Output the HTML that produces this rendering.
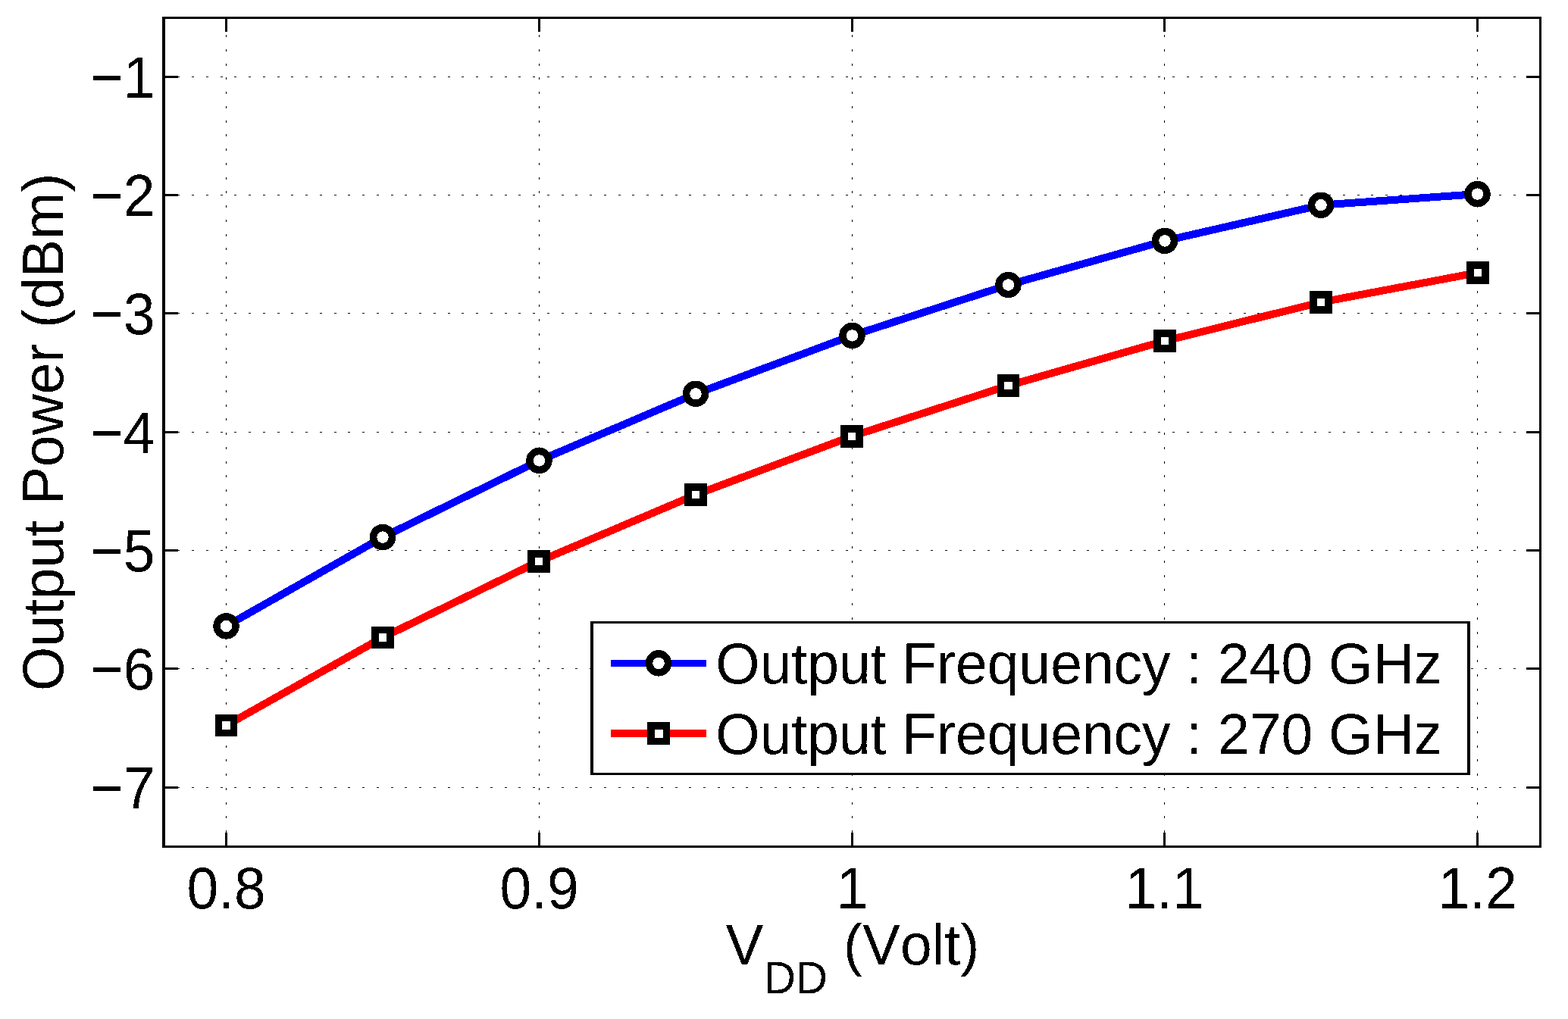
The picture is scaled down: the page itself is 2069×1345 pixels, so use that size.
<!DOCTYPE html><html><head><meta charset="utf-8"><title>Output Power vs VDD</title><style>html,body{margin:0;padding:0;background:#fff;overflow:hidden;}svg{display:block;}text{font-family:"Liberation Sans",Arial,Helvetica,sans-serif;fill:#000;font-kerning:none;font-feature-settings:"kern" 0;}</style></head><body>
<svg width="2069" height="1345" viewBox="0 0 2069 1345">
<defs><filter id="bin" x="-5%" y="-20%" width="110%" height="140%" color-interpolation-filters="sRGB"><feComponentTransfer><feFuncA type="discrete" tableValues="0 1"/></feComponentTransfer></filter></defs>
<rect x="0" y="0" width="2069" height="1345" fill="#fff"/>
<g stroke="#000" stroke-width="1" stroke-dasharray="3 15.75" fill="none" shape-rendering="crispEdges"><line x1="215.6" y1="101.5" x2="2032.5" y2="101.5"/><line x1="215.6" y1="257.5" x2="2032.5" y2="257.5"/><line x1="215.6" y1="413.5" x2="2032.5" y2="413.5"/><line x1="215.6" y1="570.5" x2="2032.5" y2="570.5"/><line x1="215.6" y1="726.5" x2="2032.5" y2="726.5"/><line x1="215.6" y1="882.5" x2="2032.5" y2="882.5"/><line x1="215.6" y1="1039.5" x2="2032.5" y2="1039.5"/><line x1="298.5" y1="1117.8" x2="298.5" y2="23.5"/><line x1="711.5" y1="1117.8" x2="711.5" y2="23.5"/><line x1="1124.5" y1="1117.8" x2="1124.5" y2="23.5"/><line x1="1536.5" y1="1117.8" x2="1536.5" y2="23.5"/><line x1="1949.5" y1="1117.8" x2="1949.5" y2="23.5"/></g>
<polyline points="298.5,826.4 505,709.1 711.5,607.9 918,519.8 1124.5,442.9 1330.5,376 1537,317.9 1743,270.7 1949.5,256.1" fill="none" stroke="#00f" stroke-width="10" stroke-linejoin="round" shape-rendering="crispEdges"/>
<g fill="#fff" stroke="#000" stroke-width="9.5" shape-rendering="crispEdges"><circle cx="298.5" cy="826.4" r="12.5"/><circle cx="505" cy="709.1" r="12.5"/><circle cx="711.5" cy="607.9" r="12.5"/><circle cx="918" cy="519.8" r="12.5"/><circle cx="1124.5" cy="442.9" r="12.5"/><circle cx="1330.5" cy="376" r="12.5"/><circle cx="1537" cy="317.9" r="12.5"/><circle cx="1743" cy="270.7" r="12.5"/><circle cx="1949.5" cy="256.1" r="12.5"/></g>
<polyline points="298.5,957.5 505,841.4 711,741 918,653 1124,575.9 1330.5,508.9 1537,450 1743,398.9 1950,359.9" fill="none" stroke="#f00" stroke-width="10" stroke-linejoin="round" shape-rendering="crispEdges"/>
<g shape-rendering="crispEdges"><rect x="283.75" y="942.75" width="29.5" height="29.5" fill="#000"/><rect x="293.25" y="952.25" width="10.5" height="10.5" fill="#fff"/><rect x="490.25" y="826.65" width="29.5" height="29.5" fill="#000"/><rect x="499.75" y="836.15" width="10.5" height="10.5" fill="#fff"/><rect x="696.25" y="726.25" width="29.5" height="29.5" fill="#000"/><rect x="705.75" y="735.75" width="10.5" height="10.5" fill="#fff"/><rect x="903.25" y="638.25" width="29.5" height="29.5" fill="#000"/><rect x="912.75" y="647.75" width="10.5" height="10.5" fill="#fff"/><rect x="1109.25" y="561.15" width="29.5" height="29.5" fill="#000"/><rect x="1118.75" y="570.65" width="10.5" height="10.5" fill="#fff"/><rect x="1315.75" y="494.15" width="29.5" height="29.5" fill="#000"/><rect x="1325.25" y="503.65" width="10.5" height="10.5" fill="#fff"/><rect x="1522.25" y="435.25" width="29.5" height="29.5" fill="#000"/><rect x="1531.75" y="444.75" width="10.5" height="10.5" fill="#fff"/><rect x="1728.25" y="384.15" width="29.5" height="29.5" fill="#000"/><rect x="1737.75" y="393.65" width="10.5" height="10.5" fill="#fff"/><rect x="1935.25" y="345.15" width="29.5" height="29.5" fill="#000"/><rect x="1944.75" y="354.65" width="10.5" height="10.5" fill="#fff"/></g>
<g fill="#000" shape-rendering="crispEdges"><rect x="214" y="22" width="4" height="1097"/><rect x="2031" y="22" width="3" height="1097"/><rect x="214" y="22" width="1820" height="3"/><rect x="214" y="1116" width="1820" height="3"/><rect x="218" y="100" width="17" height="3"/><rect x="2014" y="100" width="17" height="3"/><rect x="218" y="256" width="17" height="3"/><rect x="2014" y="256" width="17" height="3"/><rect x="218" y="412" width="17" height="3"/><rect x="2014" y="412" width="17" height="3"/><rect x="218" y="569" width="17" height="3"/><rect x="2014" y="569" width="17" height="3"/><rect x="218" y="725" width="17" height="3"/><rect x="2014" y="725" width="17" height="3"/><rect x="218" y="881" width="17" height="3"/><rect x="2014" y="881" width="17" height="3"/><rect x="218" y="1038" width="17" height="3"/><rect x="2014" y="1038" width="17" height="3"/><rect x="297" y="25" width="3" height="17"/><rect x="297" y="1099" width="3" height="17"/><rect x="710" y="25" width="3" height="17"/><rect x="710" y="1099" width="3" height="17"/><rect x="1123" y="25" width="3" height="17"/><rect x="1123" y="1099" width="3" height="17"/><rect x="1535" y="25" width="3" height="17"/><rect x="1535" y="1099" width="3" height="17"/><rect x="1948" y="25" width="3" height="17"/><rect x="1948" y="1099" width="3" height="17"/></g>
<g shape-rendering="crispEdges"><rect x="779" y="820" width="1161" height="203" fill="#000"/><rect x="783" y="823" width="1153" height="197" fill="#fff"/><rect x="806" y="871" width="126" height="9" fill="#00f"/><rect x="806" y="963" width="126" height="10" fill="#f00"/><rect x="854" y="953" width="30" height="30" fill="#000"/><rect x="864" y="963" width="11" height="11" fill="#fff"/></g>
<circle cx="869" cy="875.4" r="12.5" fill="#fff" stroke="#000" stroke-width="9.5" shape-rendering="crispEdges"/>
<g filter="url(#bin)"><g font-size="75"><text transform="translate(204.5 128.90) scale(1 1.044)" text-anchor="end">−1</text><text transform="translate(204.5 284.90) scale(1 1.044)" text-anchor="end">−2</text><text transform="translate(204.5 440.90) scale(1 1.044)" text-anchor="end">−3</text><text transform="translate(204.5 597.90) scale(1 1.044)" text-anchor="end">−4</text><text transform="translate(204.5 753.90) scale(1 1.044)" text-anchor="end">−5</text><text transform="translate(204.5 909.90) scale(1 1.044)" text-anchor="end">−6</text><text transform="translate(204.5 1066.90) scale(1 1.044)" text-anchor="end">−7</text><text transform="translate(298.5 1199) scale(1 1.044)" text-anchor="middle">0.8</text><text transform="translate(711.5 1199) scale(1 1.044)" text-anchor="middle">0.9</text><text transform="translate(1124.5 1199) scale(1 1.044)" text-anchor="middle">1</text><text transform="translate(1536.5 1199) scale(1 1.044)" text-anchor="middle">1.1</text><text transform="translate(1949.5 1199) scale(1 1.044)" text-anchor="middle">1.2</text></g><text font-size="75" transform="translate(83.4 570.4) rotate(-90) scale(1 1.02)" text-anchor="middle">Output Power (dBm)</text><text font-size="75" transform="translate(957.6 1273) scale(1 1.02)">V<tspan font-size="58.5" dy="36.8">DD</tspan><tspan dy="-36.8"> (Volt)</tspan></text><text font-size="75" transform="translate(944.3 902) scale(1 1.02)">Output Frequency : 240 GHz</text><text font-size="75" transform="translate(944.3 995) scale(1 1.02)">Output Frequency : 270 GHz</text></g>
</svg></body></html>
